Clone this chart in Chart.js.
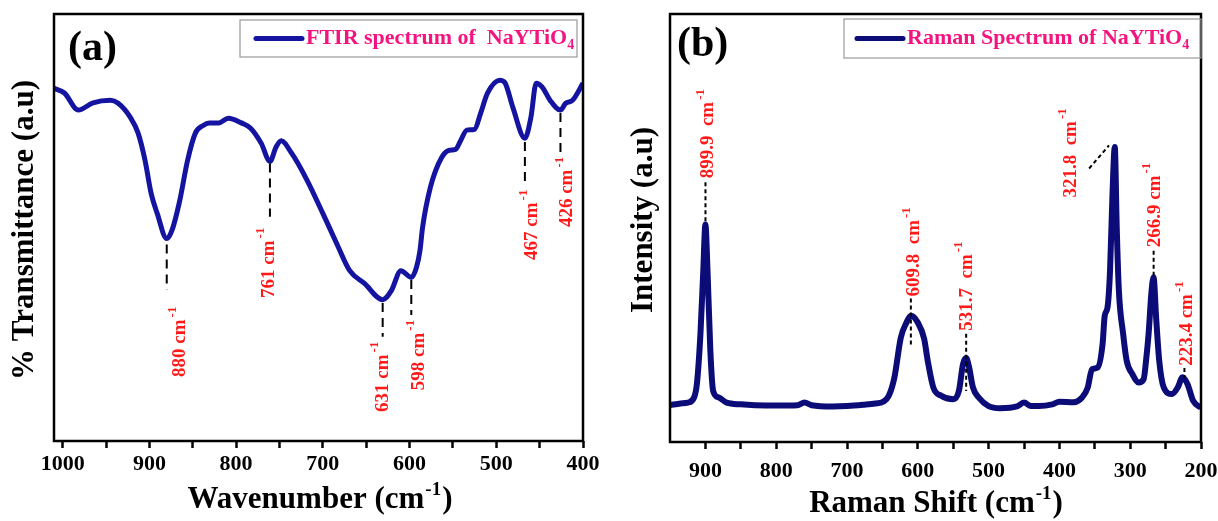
<!DOCTYPE html>
<html>
<head>
<meta charset="utf-8">
<script src="https://cdn.jsdelivr.net/npm/chart.js@4.4.1/dist/chart.umd.min.js"></script>
<style>
  body { margin: 0; background: #fff; }
  #wrap { position: relative; width: 1218px; height: 521px; }
  canvas { position: absolute; left: 0; top: 0; }
</style>
</head>
<body>
<div id="wrap">
  <canvas id="ftir" width="1218" height="521"></canvas>
  <canvas id="raman" width="1218" height="521"></canvas>
</div>
<script>
// ---- data ----
const ftirWavenumber = [1010, 998, 982, 965, 945, 936, 922, 913, 905, 898, 891, 880, 874, 865, 856, 847, 838, 831, 820, 809, 794, 783, 771, 761, 754, 748, 736, 718, 700, 683, 669, 652, 631, 621, 610, 598, 592, 588, 585, 576, 563, 554, 547, 541, 534, 525, 518, 510, 496, 490, 481, 467, 460, 454, 447, 438, 426, 420, 412, 400];
const ftirTransmittance = [82.6, 81.5, 77.5, 79.2, 79.8, 79.1, 75.8, 72.1, 65.7, 58.0, 53.3, 47.4, 49.3, 56.3, 65.7, 72.1, 73.9, 74.5, 74.5, 75.6, 74.5, 73.2, 69.7, 65.5, 68.8, 70.3, 67.4, 61.0, 53.3, 45.8, 39.9, 36.9, 33.1, 35.2, 39.9, 38.3, 40.7, 44.6, 50.0, 59.4, 66.4, 68.1, 68.3, 70.4, 72.8, 73.0, 76.8, 81.5, 84.5, 83.9, 78.2, 70.9, 75.9, 83.8, 82.9, 79.8, 77.5, 79.1, 79.8, 83.8];

const ramanShift = [950, 935, 925, 916, 912, 907, 903, 900, 897, 893, 889, 881, 870, 850, 830, 800, 770, 760, 750, 720, 700, 677, 660, 649, 641, 633, 624, 616, 609.8, 600, 591, 586, 578, 567, 550, 542, 536, 531.7, 528, 522, 514, 500, 484, 460, 450, 440, 429, 410, 400, 380, 368, 360, 354, 346, 339, 336, 332, 328.5, 325, 321.8, 319, 316, 310, 305, 297, 288, 281, 277, 274, 270, 267, 263.4, 259, 252.5, 241, 233, 226, 219, 211, 200];
const ramanIntensity = [8.6, 9.0, 9.2, 10.4, 13.6, 25.3, 40, 50.8, 40, 21.3, 11.9, 10.4, 9.2, 8.8, 8.6, 8.5, 8.6, 9.2, 8.6, 8.3, 8.4, 8.7, 9.0, 9.4, 10.8, 15.1, 24.4, 27.9, 29.5, 27.9, 24.1, 19.0, 12.7, 10.8, 10.0, 11.9, 18.3, 19.6, 17.8, 12.7, 10.4, 8.4, 7.9, 8.3, 9.2, 8.4, 8.4, 8.8, 9.4, 9.3, 10.4, 12.7, 17.0, 17.4, 22.9, 29.5, 31.5, 40, 58, 68.9, 50, 35.4, 25.3, 19.0, 15.9, 13.9, 14.7, 20, 25.3, 35, 38.5, 29.1, 19.0, 12.7, 11.2, 12.7, 15.1, 13.5, 9.6, 8.0];

const ftirTicks = [400, 450, 500, 550, 600, 650, 700, 750, 800, 850, 900, 950, 1000];
const ramanTicks = [200, 250, 300, 350, 400, 450, 500, 550, 600, 650, 700, 750, 800, 850, 900];

const ftirPeaks = [880, 761, 631, 598, 467, 426];
const ftirPeakLabels = ['880 cm', '761 cm', '631 cm', '598 cm', '467 cm', '426 cm'];
const ramanPeaks = [899.9, 609.8, 531.7, 321.8, 266.9, 223.4];
const ramanPeakLabels = ['899.9  cm', '609.8  cm', '531.7  cm', '321.8  cm', '266.9 cm', '223.4 cm'];

// ---- look ----
const SERIF = '"Liberation Serif", "Times New Roman", serif';
const RED = '#ff1a1a';
const PINK = '#f5137f';

// where each peak note goes (axis units): dashed line y1->y2, label centre x, label start y
const ftirNotes = [
  { y1: 46, y2: 35.4, lx: 864.5, ly: 15.0 },
  { y1: 65, y2: 52.5, lx: 762, ly: 33.5 },
  { y1: 32.3, y2: 24.4, lx: 631, ly: 6.8 },
  { y1: 37.7, y2: 29.5, lx: 589, ly: 11.9 },
  { y1: 70, y2: 59.5, lx: 459, ly: 42.4 },
  { y1: 76.8, y2: 66.5, lx: 418, ly: 50.1 }
];
const ramanNotes = [
  { y1: 60.7, y2: 51.3, lx: 896, ly: 61.6 },
  { y1: 33.5, y2: 22.5, lx: 605, ly: 34 },
  { y1: 25.3, y2: 11.9, lx: 531, ly: 26 },
  { x1: 358, y1: 63.9, x2: 330, y2: 69.3, lx: 383.6, ly: 57.1 },
  { y1: 44.7, y2: 38.9, lx: 265, ly: 45.5 },
  { y1: 17.3, y2: 15.0, lx: 219, ly: 17.8 }
];

function supText(ctx, x, y, main, sup, size, align) {
  ctx.font = 'bold ' + size + 'px ' + SERIF;
  const w1 = ctx.measureText(main).width;
  ctx.font = 'bold ' + Math.round(size * 0.62) + 'px ' + SERIF;
  const w2 = ctx.measureText(sup).width;
  ctx.font = 'bold ' + size + 'px ' + SERIF;
  const w3 = ctx.measureText(')').width;
  let x0 = align === 'center' ? x - (w1 + w2 + w3) / 2 : x;
  ctx.textAlign = 'left';
  ctx.fillText(main, x0, y);
  ctx.font = 'bold ' + Math.round(size * 0.62) + 'px ' + SERIF;
  ctx.fillText(sup, x0 + w1 + 1, y - size * 0.42);
  ctx.font = 'bold ' + size + 'px ' + SERIF;
  ctx.fillText(')', x0 + w1 + w2 + 2, y);
}

const decor = {
  id: 'decor',
  afterDraw(chart, args, o) {
    const { ctx, chartArea: a, scales: { x, y } } = chart;
    ctx.save();

    // peak notes
    o.peaks.forEach((p, i) => {
      const n = o.notes[i];
      ctx.strokeStyle = '#000';
      ctx.lineWidth = o.dashWidth;
      ctx.setLineDash(o.dash);
      ctx.beginPath();
      ctx.moveTo(x.getPixelForValue(n.x1 !== undefined ? n.x1 : p), y.getPixelForValue(n.y1));
      ctx.lineTo(x.getPixelForValue(n.x2 !== undefined ? n.x2 : p), y.getPixelForValue(n.y2));
      ctx.stroke();
      ctx.setLineDash([]);

      ctx.save();
      ctx.translate(x.getPixelForValue(n.lx), y.getPixelForValue(n.ly));
      ctx.rotate(-Math.PI / 2);
      ctx.fillStyle = RED;
      ctx.textAlign = 'left';
      ctx.textBaseline = 'middle';
      ctx.font = 'bold 19px ' + SERIF;
      ctx.fillText(o.labels[i], 0, 0);
      const w = ctx.measureText(o.labels[i]).width;
      ctx.font = 'bold 13px ' + SERIF;
      ctx.fillText('-1', w + 2, -8);
      ctx.restore();
    });

    // frame
    ctx.strokeStyle = '#000';
    ctx.lineWidth = 2.5;
    ctx.strokeRect(a.left, a.top, a.right - a.left, a.bottom - a.top);

    // panel letter
    ctx.fillStyle = '#000';
    ctx.textBaseline = 'alphabetic';
    ctx.textAlign = 'left';
    ctx.font = 'bold 42px ' + SERIF;
    ctx.fillText(o.letter, o.letterX, o.letterY);

    // legend
    const b = o.legendBox;
    ctx.strokeStyle = '#999';
    ctx.lineWidth = 1.2;
    ctx.strokeRect(b[0], b[1], b[2] - b[0], b[3] - b[1]);
    const my = (b[1] + b[3]) / 2;
    ctx.strokeStyle = o.color;
    ctx.lineWidth = 5;
    ctx.lineCap = 'round';
    ctx.beginPath();
    ctx.moveTo(b[0] + o.legendPad, my);
    ctx.lineTo(b[0] + o.legendPad + 46, my);
    ctx.stroke();
    ctx.lineCap = 'butt';
    ctx.fillStyle = PINK;
    ctx.textBaseline = 'middle';
    ctx.font = 'bold 22px ' + SERIF;
    const tx = b[0] + o.legendPad + 50;
    ctx.fillText(o.legendText, tx, my);
    const tw = ctx.measureText(o.legendText).width;
    ctx.font = 'bold 14px ' + SERIF;
    ctx.fillText('4', tx + tw, my + 7);

    // axis titles
    ctx.fillStyle = '#000';
    ctx.textBaseline = 'alphabetic';
    supText(ctx, o.xTitleX, o.xTitleY, o.xTitle, '-1', 31, 'center');
    ctx.save();
    ctx.translate(o.yTitleX, o.yTitleY);
    ctx.rotate(-Math.PI / 2);
    ctx.textAlign = 'center';
    ctx.textBaseline = 'middle';
    ctx.font = 'bold 31px ' + SERIF;
    ctx.fillText(o.yTitle, 0, 0);
    ctx.restore();

    ctx.restore();
  }
};

function xAxis(min, max, tickVals, height, pad) {
  return {
    type: 'linear',
    reverse: true,
    min: min,
    max: max,
    afterBuildTicks: s => { s.ticks = tickVals.map(v => ({ value: v })); },
    afterFit: s => { s.height = height; s.paddingLeft = 0; s.paddingRight = 0; },
    border: { display: false },
    grid: { drawOnChartArea: false, drawTicks: true, tickLength: 7, tickWidth: 2.5, tickColor: '#000' },
    ticks: {
      autoSkip: false,
      maxRotation: 0,
      padding: pad,
      color: '#000',
      font: { family: SERIF, size: 22, weight: 'bold' },
      callback: v => (v % 100 === 0 ? String(v) : '')
    }
  };
}

new Chart(document.getElementById('ftir'), {
  type: 'line',
  data: {
    datasets: [{
      label: 'FTIR spectrum of  NaYTiO4',
      data: ftirWavenumber.map((w, i) => ({ x: w, y: ftirTransmittance[i] })),
      borderColor: '#1414a0',
      borderWidth: 5,
      pointRadius: 0,
      cubicInterpolationMode: 'monotone',
      fill: false
    }]
  },
  options: {
    responsive: false,
    animation: false,
    devicePixelRatio: 1,
    layout: { padding: { left: 54, right: 1218 - 583, top: 14, bottom: 0 } },
    scales: {
      x: xAxis(400, 1010, ftirTicks, 80, 3),
      y: { display: false, min: 0, max: 100 }
    },
    plugins: {
      legend: { display: false },
      tooltip: { enabled: false },
      decor: {
        peaks: ftirPeaks, labels: ftirPeakLabels, notes: ftirNotes,
        dash: [9, 6], dashWidth: 2,
        letter: '(a)', letterX: 68, letterY: 60,
        legendBox: [240, 20, 577, 57], legendPad: 16, legendText: 'FTIR spectrum of  NaYTiO', color: '#1414a0',
        xTitle: 'Wavenumber (cm', xTitleX: 319, xTitleY: 508,
        yTitle: '% Transmittance (a.u)', yTitleX: 25, yTitleY: 230
      }
    }
  },
  plugins: [decor]
});

new Chart(document.getElementById('raman'), {
  type: 'line',
  data: {
    datasets: [{
      label: 'Raman Spectrum of NaYTiO4',
      data: ramanShift.map((w, i) => ({ x: w, y: ramanIntensity[i] })),
      borderColor: '#0c0c78',
      borderWidth: 6,
      pointRadius: 0,
      cubicInterpolationMode: 'monotone',
      fill: false
    }]
  },
  options: {
    responsive: false,
    animation: false,
    devicePixelRatio: 1,
    layout: { padding: { left: 670, right: 1218 - 1201, top: 14, bottom: 0 } },
    scales: {
      x: xAxis(200, 950, ramanTicks, 79, 9),
      y: { display: false, min: 0, max: 100 }
    },
    plugins: {
      legend: { display: false },
      tooltip: { enabled: false },
      decor: {
        peaks: ramanPeaks, labels: ramanPeakLabels, notes: ramanNotes,
        dash: [4, 3], dashWidth: 2,
        letter: '(b)', letterX: 677, letterY: 56,
        legendBox: [844, 19, 1201, 58], legendPad: 13, legendText: 'Raman Spectrum of NaYTiO', color: '#0c0c78',
        xTitle: 'Raman Shift (cm', xTitleX: 935, xTitleY: 512,
        yTitle: 'Intensity (a.u)', yTitleX: 644, yTitleY: 220
      }
    }
  },
  plugins: [decor]
});
</script>
</body>
</html>
